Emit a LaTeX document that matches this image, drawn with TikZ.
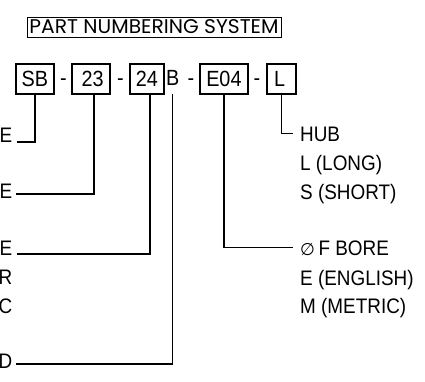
\documentclass[tikz,border=0pt]{standalone}
\usepackage{fontspec}
\setmainfont{Liberation Sans}[FakeStretch=0.9]
\newfontfamily\titlefont{Poppins}
\newfontfamily\symfont{DejaVu Sans}
\begin{document}
\begin{tikzpicture}[x=1pt,y=-1pt,
  box/.style={draw, line width=1.8pt, minimum height=30pt, inner sep=0pt, anchor=north west, font=\fontsize{22}{26}\selectfont},
  big/.style={inner sep=0pt, font=\fontsize{22}{26}\selectfont},
  lbl/.style={inner sep=0pt, font=\fontsize{21}{25}\selectfont},
  conn/.style={line width=1.2pt}]
\useasboundingbox (0,0) rectangle (425,381);
% title
\node[draw, line width=0.9pt, minimum width=254pt, minimum height=20pt, inner sep=0pt] (title) at (154,27)
  {\resizebox{249pt}{14pt}{\titlefont PART NUMBERING SYSTEM}};
% part number row
\node[box, minimum width=38pt] (sb) at (15,63) {SB};
\node[big, anchor=base] (d1) at (63.5,85) {-};
\node[box, minimum width=38pt] (n23) at (71,63) {\,23};
\node[big, anchor=base] (d2) at (120.5,85) {-};
\node[box, minimum width=34pt] (n24) at (129,63) {24};
\node[big, anchor=base west] (bl) at (166,85) {B};
\node[big, anchor=base] (d3) at (191,85) {-};
\node[box, minimum width=48pt] (e04) at (199,63) {E04};
\node[big, anchor=base] (d4) at (257,85) {-};
\node[box, minimum width=29pt] (lbox) at (266,63) {L\,};
% left labels
\node[lbl, anchor=base east] (e1) at (12.5,142) {E};
\node[lbl, anchor=base east] (e2) at (12.5,198) {E};
\node[lbl, anchor=base east] (e3) at (12.5,255) {E};
\node[lbl, anchor=base east] (r) at (12.5,284) {R};
\node[lbl, anchor=base east] (c) at (12.5,313) {C};
\node[lbl, anchor=base east] (d) at (12.5,368) {D};
% right labels
\node[lbl, anchor=base west] (hub) at (300,141) {HUB};
\node[lbl, anchor=base west] (long) at (300,170) {L (LONG)};
\node[lbl, anchor=base west] (short) at (300,199) {S (SHORT)};
\node[lbl, anchor=base west] (bore) at (300,255) {{\symfont\fontsize{17}{20}\selectfont ∅}\,F BORE};
\node[lbl, anchor=base west] (eng) at (300,285) {E (ENGLISH)};
\node[lbl, anchor=base west] (met) at (300,313) {M (METRIC)};
% connectors
\draw[conn] (sb.south) |- ([xshift=4.5pt]e1.base east);
\draw[conn] ([xshift=3pt]n23.south) |- ([xshift=3.5pt,yshift=4pt]e2.base east);
\draw[conn] ([xshift=3pt]n24.south) |- ([xshift=4.5pt,yshift=1pt]e3.base east);
\draw[conn] ([yshift=-9pt]bl.south) |- ([xshift=3.5pt,yshift=4pt]d.base east);
\draw[conn] (lbox.south) |- ([xshift=-7pt]hub.west);
\draw[conn] (e04.south) |- ([xshift=-7pt]bore.west);
\end{tikzpicture}
\end{document}
